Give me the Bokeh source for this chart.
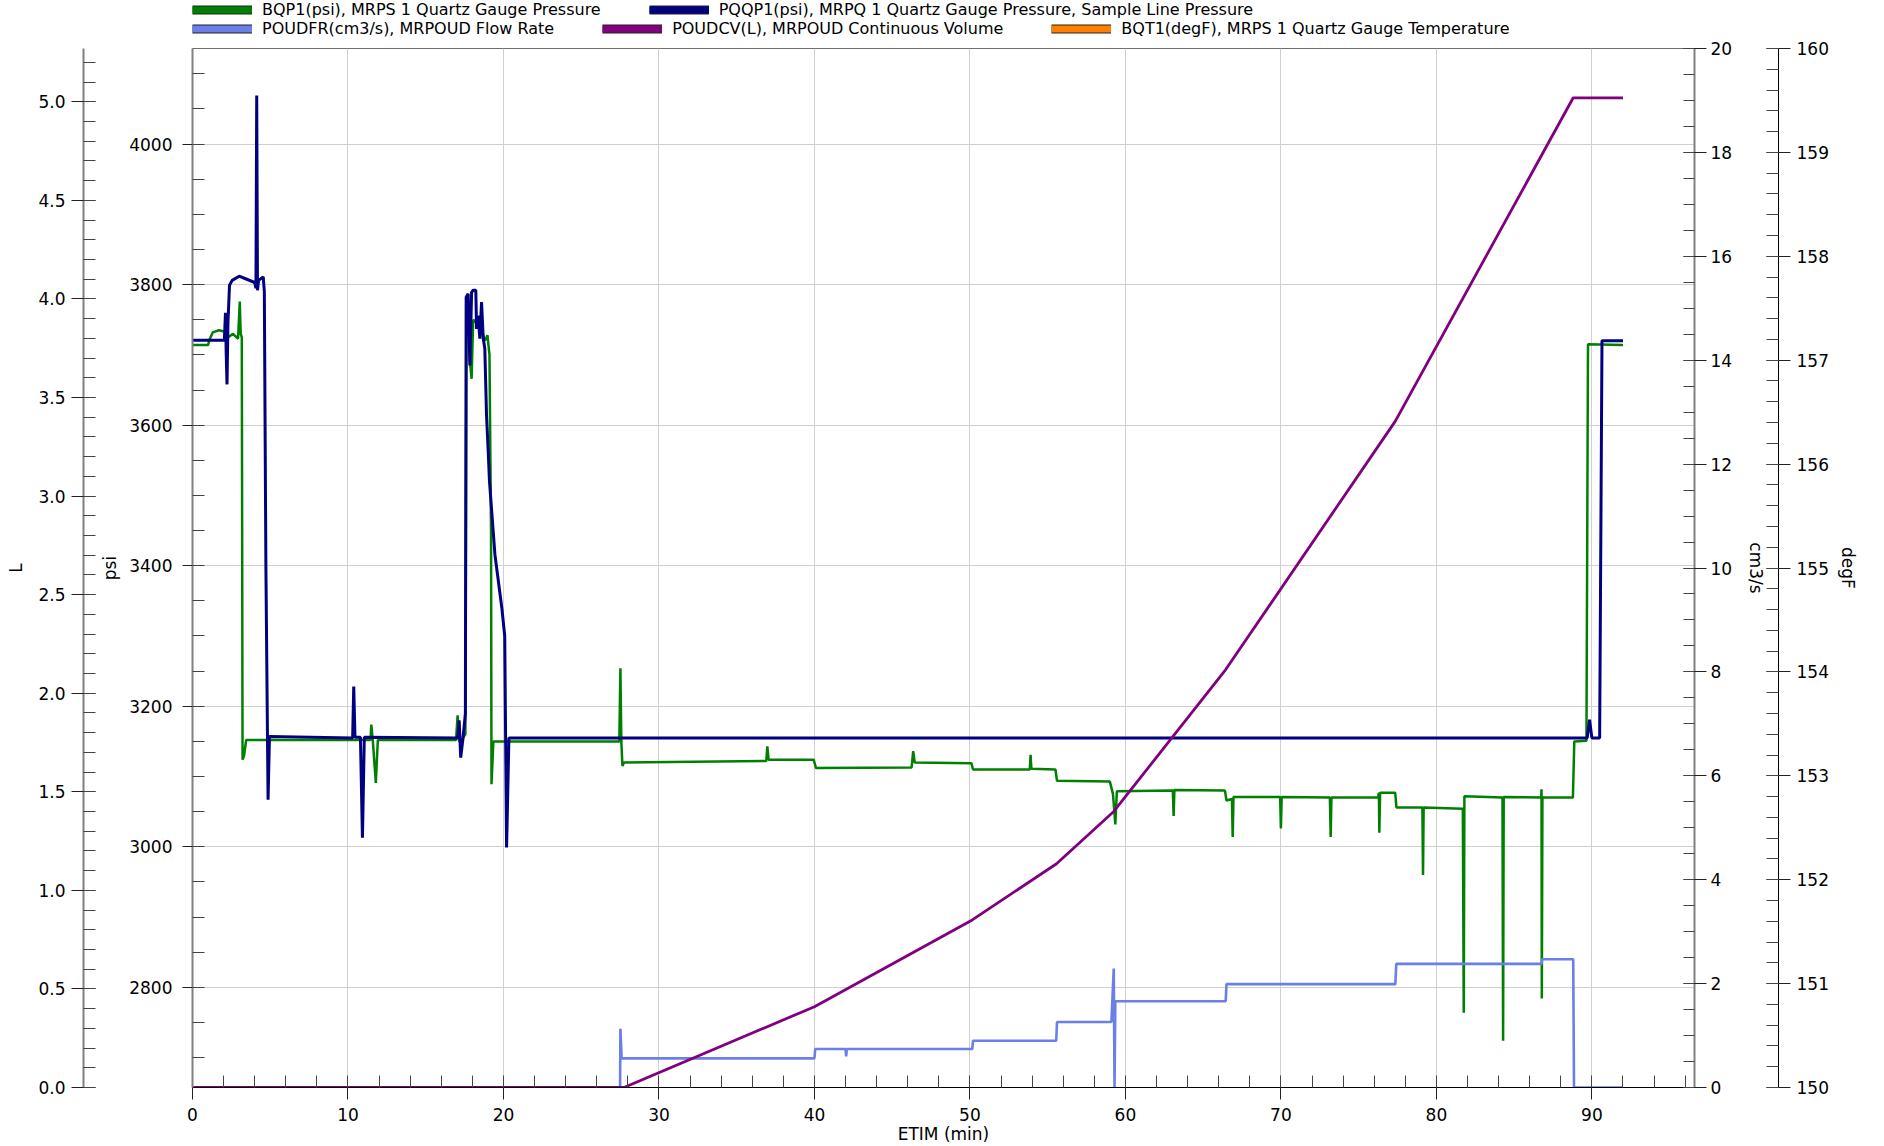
from bokeh.plotting import figure
from bokeh.layouts import column
from bokeh.models import (Range1d, LinearAxis, SingleIntervalTicker, FixedTicker,
                          NumeralTickFormatter, Legend, LegendItem)
from bokeh.embed import file_html
from bokeh.resources import INLINE

# ---------------- data ----------------
# BQP1 (psi) - MRPS 1 Quartz Gauge Pressure
bqp1_t = [0.0, 1.0, 1.1, 1.3, 1.7, 2.1, 2.3, 2.6, 2.93, 3.04,
          3.1, 3.17, 3.22, 3.32, 3.45, 11.45, 11.5, 11.6, 11.79, 11.92,
          16.95, 17.05, 17.15, 17.3, 17.55, 17.62, 17.75, 17.85, 17.95, 18.05,
          18.3, 18.6, 18.8, 18.97, 19.1, 19.2, 19.23, 19.35, 27.45, 27.52,
          27.58, 27.65, 27.75, 36.9, 36.97, 37.05, 39.95, 40.1, 46.25, 46.35,
          46.45, 50.1, 50.2, 53.85, 53.9, 53.95, 55.5, 55.6, 59.0, 59.2,
          59.35, 59.45, 63.05, 63.1, 63.15, 66.4, 66.5, 66.85, 66.9, 66.95,
          69.95, 70.0, 70.05, 73.15, 73.2, 73.25, 76.25, 76.3, 76.33, 76.38,
          77.35, 77.43, 79.1, 79.14, 79.18, 81.7, 81.76, 81.8, 84.25, 84.29,
          84.33, 86.74, 86.76, 86.78, 86.82, 88.78, 88.87, 89.65, 89.75, 92.0]
bqp1_psi = [3714, 3714, 3722, 3732, 3735, 3733, 3725, 3730, 3723, 3776,
            3730, 3725, 3124, 3130, 3152, 3152, 3174, 3150, 3091, 3152,
            3152, 3187, 3150, 3152, 3160, 3740, 3760, 3690, 3666, 3750,
            3745, 3735, 3720, 3728, 3700, 3450, 3089, 3150, 3150, 3254,
            3150, 3115, 3120, 3122, 3143, 3124, 3124, 3112, 3113, 3136,
            3120, 3119, 3110, 3110, 3131, 3111, 3110, 3094, 3093, 3075,
            3032, 3079, 3080, 3044, 3081, 3080, 3066, 3068, 3014, 3071,
            3071, 3026, 3071, 3070, 3014, 3070, 3070, 3077, 3020, 3077,
            3077, 3056, 3056, 2960, 3056, 3054, 2764, 3072, 3070, 2724,
            3071, 3070, 3082, 2784, 3070, 3070, 3150, 3151, 3715, 3714]

# PQQP1 (psi) - MRPQ 1 Quartz Gauge Pressure, Sample Line Pressure
pqqp1_t = [0.0, 2.05, 2.12, 2.17, 2.22, 2.28, 2.38, 2.55, 3.0, 3.45,
           4.0, 4.08, 4.13, 4.18, 4.25, 4.55, 4.62, 4.72, 4.86, 4.95,
           10.3, 10.37, 10.45, 10.8, 10.93, 11.05, 17.05, 17.15, 17.25, 17.4,
           17.55, 17.6, 17.73, 17.84, 17.95, 18.05, 18.22, 18.27, 18.37, 18.48,
           18.59, 18.7, 18.8, 18.91, 19.02, 19.1, 19.45, 19.9, 20.08, 20.2,
           20.35, 89.7, 89.85, 90.0, 90.5, 90.65, 92.0]
pqqp1_psi = [3721, 3721, 3760, 3700, 3658, 3745, 3799, 3806, 3812, 3808,
             3803, 3795, 4069, 3792, 3806, 3811, 3790, 3400, 3067, 3157,
             3155, 3228, 3156, 3156, 3013, 3156, 3155, 3180, 3127, 3155,
             3190, 3782, 3787, 3685, 3789, 3792, 3792, 3737, 3756, 3723,
             3775, 3723, 3709, 3614, 3562, 3520, 3416, 3339, 3300, 2999,
             3155, 3155, 3181, 3155, 3155, 3720, 3720]

# POUDFR (cm3/s) - MRPOUD Flow Rate
poudfr_t = [0.0, 27.5, 27.52, 27.6, 40.0, 40.05, 42.0, 42.04, 42.08, 50.15,
            50.2, 55.55, 55.6, 59.1, 59.25, 59.3, 59.35, 66.45, 66.5, 77.36,
            77.42, 86.76, 86.8, 88.8, 88.85, 92.0]
poudfr_cm3s = [0.0, 0.0, 1.13, 0.56, 0.56, 0.74, 0.74, 0.6, 0.74, 0.74,
               0.9, 0.9, 1.26, 1.26, 2.29, 0.0, 1.66, 1.66, 1.99, 1.99,
               2.38, 2.38, 2.47, 2.47, 0.0, 0.0]

# POUDCV (L) - MRPOUD Continuous Volume
poudcv_t = [0.0, 27.75, 40.0, 50.15, 55.57, 59.25, 66.45, 77.36, 88.8, 92.0]
poudcv_l = [0.0, 0.0, 0.41, 0.85, 1.135, 1.40, 2.12, 3.38, 5.02, 5.02]

legend_row1 = ["BQP1(psi), MRPS 1 Quartz Gauge Pressure",
               "PQQP1(psi), MRPQ 1 Quartz Gauge Pressure, Sample Line Pressure"]
legend_row2 = ["POUDFR(cm3/s), MRPOUD Flow Rate",
               "POUDCV(L), MRPOUD Continuous Volume",
               "BQT1(degF), MRPS 1 Quartz Gauge Temperature"]

C_GREEN, C_NAVY, C_BLUE, C_PURPLE, C_ORANGE = "#008000", "#000080", "#6b7fe8", "#800080", "#ff8000"
FONT = "DejaVu Sans"
FIG_W = 1864
LEG_H = 38
ROW_H = 19

p = figure(frame_width=1502, frame_height=1039, output_backend="svg", toolbar_location=None,
           x_range=Range1d(0, 96.6), y_range=Range1d(2657.5, 4136),
           min_border_left=0, min_border_right=0, min_border_top=10, min_border_bottom=0,
           background_fill_color="white", border_fill_color="white")
p.extra_y_ranges = {"vol": Range1d(0, 5.27), "flow": Range1d(0, 20), "temp": Range1d(150, 160)}
p.outline_line_color = "#707070"
p.outline_line_width = 1


def style_axis(ax, label, t_out, t_in, m_in, standoff, label_standoff, line_color, line_width):
    ax.axis_label = label
    ax.axis_label_text_font = FONT
    ax.axis_label_text_font_size = "17px"
    ax.axis_label_text_font_style = "normal"
    ax.axis_label_text_color = "black"
    ax.axis_label_standoff = label_standoff
    ax.major_label_text_font = FONT
    ax.major_label_text_font_size = "17px"
    ax.major_label_text_color = "black"
    ax.major_label_standoff = standoff
    ax.major_tick_out = t_out
    ax.major_tick_in = t_in
    ax.minor_tick_in = m_in
    ax.minor_tick_out = 0
    ax.major_tick_line_color = "#222222"
    ax.minor_tick_line_color = "#444444"
    ax.axis_line_color = line_color
    ax.axis_line_width = line_width


def spacer(range_name, size, tick):
    # an axis with a single blank tick: it only reserves horizontal room between two axes
    return LinearAxis(y_range_name=range_name, ticker=FixedTicker(ticks=[tick]),
                      major_label_overrides={tick: ""}, major_label_text_font_size="1px",
                      axis_line_color=None, major_tick_line_color="white",
                      minor_tick_line_color=None, major_tick_out=size, major_tick_in=0,
                      minor_tick_out=0, minor_tick_in=0, major_label_standoff=0)


# x axis
xa = p.xaxis[0]
xa.ticker = SingleIntervalTicker(interval=10, num_minor_ticks=5)
style_axis(xa, "ETIM (min)", 12, 0, 12, 8, 0, "black", 1.2)

# psi axis (default left)
ya = p.yaxis[0]
ya.ticker = SingleIntervalTicker(interval=200, num_minor_ticks=4)
style_axis(ya, "psi", 10, 0, 12, 10, 6, "#808080", 2)

p.add_layout(spacer("vol", 14, 0.25), "left")
la = LinearAxis(y_range_name="vol", ticker=SingleIntervalTicker(interval=0.5, num_minor_ticks=5),
                formatter=NumeralTickFormatter(format="0.0"))
style_axis(la, "L", 12, 12, 12, 6, 9, "#808080", 2)
p.add_layout(la, "left")
p.add_layout(spacer("vol", 3, 0.25), "left")

fa = LinearAxis(y_range_name="flow", ticker=SingleIntervalTicker(interval=2, num_minor_ticks=4))
style_axis(fa, "cm3/s", 12, 11, 11, 4, 11, "#808080", 2)
p.add_layout(fa, "right")
p.add_layout(spacer("temp", 9, 150.3), "right")
ta = LinearAxis(y_range_name="temp", ticker=SingleIntervalTicker(interval=1, num_minor_ticks=5))
style_axis(ta, "degF", 12, 12, 12, 6, 6, "black", 1)
p.add_layout(ta, "right")

p.xgrid.grid_line_color = "#d0d0d0"
p.ygrid.grid_line_color = "#d0d0d0"
p.xgrid.grid_line_width = 1
p.ygrid.grid_line_width = 1

# series
p.line(bqp1_t, bqp1_psi, line_color=C_GREEN, line_width=2.5)
p.line(pqqp1_t, pqqp1_psi, line_color=C_NAVY, line_width=3)
p.line(poudfr_t, poudfr_cm3s, line_color=C_BLUE, line_width=2.6, y_range_name="flow")
p.line(poudcv_t, poudcv_l, line_color=C_PURPLE, line_width=2.8, y_range_name="vol")

# ---------------- legend strip above the plot ----------------
# (its frame is aligned with the main plot's frame by the column layout)
lg = figure(width=FIG_W, height=LEG_H, output_backend="svg", toolbar_location=None,
            x_range=Range1d(0, 1), y_range=Range1d(0, 1),
            x_axis_location=None, y_axis_location=None,
            min_border_left=0, min_border_right=0, min_border_top=0, min_border_bottom=0,
            background_fill_color="white", border_fill_color="white")
lg.outline_line_color = None
lg.grid.visible = False

NAN = [float("nan")]


def swatch(color):
    edge = lg.line(x=NAN, y=NAN, line_color="#222222", line_width=9, line_cap="butt")
    fill = lg.line(x=NAN, y=NAN, line_color=color, line_width=7, line_cap="butt")
    return [edge, fill]


def make_legend(labels, colors, vy):
    return Legend(items=[LegendItem(label=l, renderers=swatch(c)) for l, c in zip(labels, colors)],
                  orientation="horizontal", location=(0, vy), margin=0, padding=0,
                  spacing=48, label_standoff=10, glyph_width=60, glyph_height=ROW_H,
                  label_height=ROW_H, label_text_font=FONT, label_text_font_size="16px",
                  label_text_color="black", border_line_color=None,
                  background_fill_alpha=0)

lg.add_layout(make_legend(legend_row1, [C_GREEN, C_NAVY], LEG_H - ROW_H))
lg.add_layout(make_legend(legend_row2, [C_BLUE, C_PURPLE, C_ORANGE], 0))

layout = column(lg, p, spacing=0)
open("out.html", "w").write(file_html(layout, INLINE))
